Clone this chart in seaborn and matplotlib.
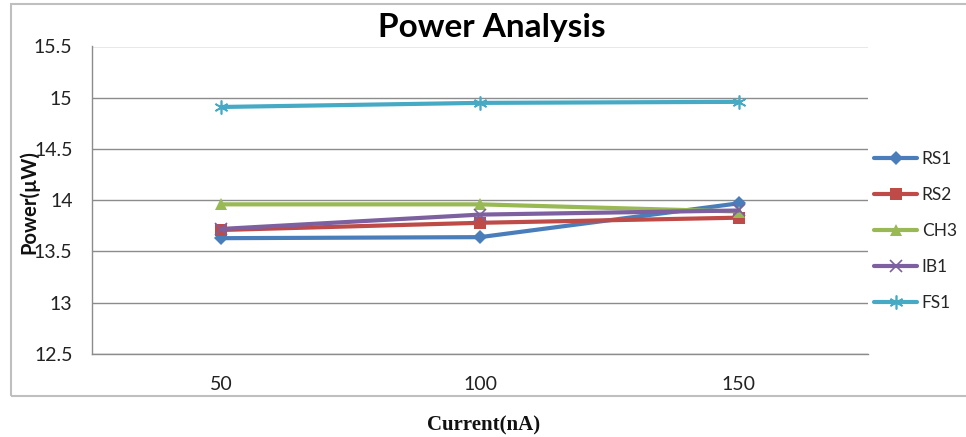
import matplotlib
matplotlib.use("Agg")
import matplotlib.pyplot as plt
import pandas as pd
import seaborn as sns

# Data
currents = ["50", "100", "150"]
series_names = ["RS1", "RS2", "CH3", "IB1", "FS1"]
rs1 = [13.63, 13.64, 13.97]
rs2 = [13.71, 13.78, 13.83]
ch3 = [13.96, 13.96, 13.89]
ib1 = [13.72, 13.86, 13.90]
fs1 = [14.91, 14.95, 14.96]
y_ticks = [12.5, 13, 13.5, 14, 14.5, 15, 15.5]

values = {"RS1": rs1, "RS2": rs2, "CH3": ch3, "IB1": ib1, "FS1": fs1}
df = pd.DataFrame(
    [(c, name, v) for name in series_names for c, v in zip(currents, values[name])],
    columns=["Current", "Series", "Power"],
)

colors = {"RS1": "#4A7EBB", "RS2": "#BE4B48", "CH3": "#98B954",
          "IB1": "#7D60A0", "FS1": "#46AAC5"}
markers = {"RS1": "D", "RS2": "s", "CH3": "^", "IB1": "x", "FS1": (6, 2, 0)}
msizes = {"RS1": 7, "RS2": 9, "CH3": 9, "IB1": 8, "FS1": 10}

sns.set_theme(style="white")
plt.rcParams["font.family"] = ["Lato", "DejaVu Sans"]

fig = plt.figure(figsize=(9.66, 4.37), dpi=100)
ax = fig.add_axes([92 / 966, 1 - 354 / 437, (868 - 92) / 966, (354 - 46.5) / 437])

for name in series_names:
    sub = df[df["Series"] == name]
    sns.lineplot(data=sub, x="Current", y="Power", ax=ax, color=colors[name],
                 marker=markers[name], markersize=msizes[name], linewidth=3,
                 markeredgewidth=1.2 if name in ("IB1", "FS1") else 0,
                 markeredgecolor=colors[name], label=name, sort=False)

ax.set_xlim(-0.5, 2.5)
ax.set_ylim(12.5, 15.5)
ax.set_yticks(y_ticks)
ax.set_yticklabels([f"{t:g}" for t in y_ticks])
ax.grid(axis="y", color="#8C8C8C", linewidth=1)
ax.set_axisbelow(True)
for side in ("top", "right"):
    ax.spines[side].set_visible(False)
for side in ("left", "bottom"):
    ax.spines[side].set_color("#8C8C8C")
    ax.spines[side].set_linewidth(1)
ax.tick_params(axis="both", length=0, labelsize=14, colors="#222222")
ax.tick_params(axis="x", pad=16)
ax.tick_params(axis="y", pad=14)

ax.set_xlabel("")
ax.set_ylabel("")
fig.text(29 / 966, 1 - 202 / 437, "Power(\u00b5W)", rotation=90, ha="center",
         va="center", fontsize=14.5, fontweight="bold", color="#111111")
fig.text(484 / 966, 1 - 425 / 437, "Current(nA)", ha="center", va="center",
         fontsize=15, fontweight="bold", family=["Liberation Serif"],
         color="#111111")
fig.text(492 / 966, 1 - 28 / 437, "Power Analysis", ha="center", va="center",
         fontsize=24, fontweight="bold", color="#000000")

# Chart frame
frame = plt.Rectangle((11 / 966, 1 - 396 / 437), 1.2, (396 - 4) / 437,
                      transform=fig.transFigure, fill=False,
                      edgecolor="#BFBFBF", linewidth=1.5, clip_on=False)
fig.add_artist(frame)

handles, labels = ax.get_legend_handles_labels()
ax.legend(handles, labels, loc="center left", bbox_to_anchor=(874 / 966, 1 - 231 / 437),
          bbox_transform=fig.transFigure, frameon=False, fontsize=12.5,
          labelspacing=1.15, handlelength=2.5, handletextpad=0.25,
          borderaxespad=0, borderpad=0)

fig.savefig("out.png", dpi=100)
